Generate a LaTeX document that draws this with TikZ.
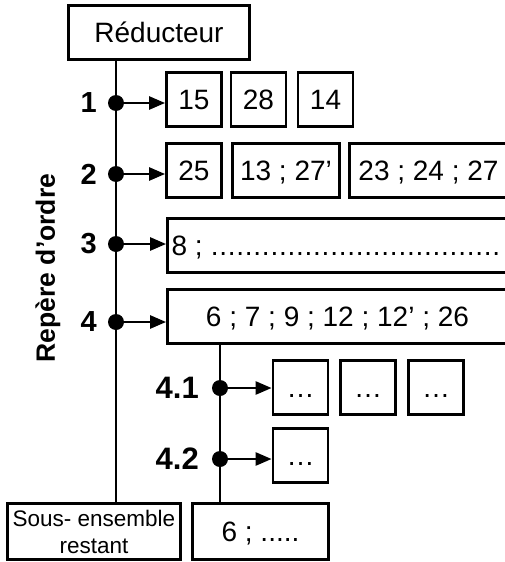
\documentclass[tikz,border=0pt]{standalone}
\usepackage{fontspec}
\setmainfont{Liberation Sans}
\usetikzlibrary{arrows.meta}
\newcommand\myfa{\fontsize{28pt}{33pt}\selectfont}
\newcommand\myfb{\fontsize{29pt}{34pt}\selectfont\bfseries}
\newcommand\myfc{\fontsize{31pt}{36pt}\selectfont\bfseries}
\newcommand\myfd{\fontsize{26.5pt}{30pt}\selectfont\bfseries}
\newcommand\myfe{\fontsize{22.5pt}{27pt}\selectfont}
\newcommand\mydots{\hbox to 290pt{\xleaders\hbox to 8.5pt{\hss.\hss}\hfill}}
\begin{document}
\begin{tikzpicture}[x=1pt,y=-1pt,
  frame/.style={draw, line width=2.8pt, inner sep=0pt},
  box/.style={frame, minimum height=54pt, minimum width=55pt, text height=20pt, text depth=0pt, font=\myfa},
  dot/.style={circle, fill, inner sep=0pt, minimum size=16pt},
  ln/.style={line width=2.8pt},
  arr/.style={line width=2.6pt, -{Triangle[length=16pt,width=13pt]}},
  lab/.style={inner sep=0pt, anchor=east, font=\myfb},
  labb/.style={inner sep=0pt, anchor=east, font=\myfc}]
\useasboundingbox (0,0) rectangle (505,562);
\clip (0,0) rectangle (505,562);

% boxes
\node[box, minimum width=181pt] (red) at (159,32.5) {Réducteur};
\node[box] (b15) at (194,99.5) {15};
\node[box] (b28) at (258.5,99.5) {28};
\node[box] (b14) at (325.5,99.5) {14};
\node[box] (b25) at (194,170.5) {25};
\node[box, minimum width=107pt] (b1327) at (286,170.5) {13 ; 27’};
\node[box, minimum width=158pt] (b2324) at (428.5,170.5) {23 ; 24 ; 27};
\node[box, minimum width=340pt] (b8) at (337.5,245.5) {\makebox[332pt][l]{8 ; \mydots}};
\node[box, minimum width=340pt] (b4) at (337.5,316.5) {6 ; 7 ; 9 ; 12 ; 12’ ; 26};
\node[box] (e1) at (300.5,387.5) {…};
\node[box] (e2) at (368,387.5) {…};
\node[box] (e3) at (436,387.5) {…};
\node[box] (e4) at (300.5,455.5) {…};
\node[frame, minimum width=173pt, minimum height=56pt, align=center, font=\myfe] (sous) at (94,531.5) {Sous- ensemble\\restant};
\node[box, minimum width=136pt, minimum height=56pt] (rest) at (260.5,531.5) {6 ; .....};

% dots
\node[dot] (d1) at (116,103) {};
\node[dot] (d2) at (116,174) {};
\node[dot] (d3) at (116,244) {};
\node[dot] (d4) at (116,322) {};
\node[dot] (d41) at (220,388) {};
\node[dot] (d42) at (220,459) {};

% vertical lines
\draw[ln] (red.south -| d1) -- (sous.north -| d1);
\draw[ln] (b4.south -| d41) -- (rest.north -| d41);

% arrows
\draw[arr] (d1) -- (b15.west |- d1);
\draw[arr] (d2) -- (b25.west |- d2);
\draw[arr] (d3) -- (b8.west |- d3);
\draw[arr] (d4) -- (b4.west |- d4);
\draw[arr] (d41) -- (e1.west |- d41);
\draw[arr] (d42) -- (e4.west |- d42);

% labels
\node[lab] (l1) at ([xshift=-19pt]d1.center) {1};
\node[lab] (l2) at ([xshift=-19pt]d2.center) {2};
\node[lab] (l3) at ([xshift=-19pt]d3.center) {3};
\node[lab] (l4) at ([xshift=-19pt]d4.center) {4};
\node[labb] (l41) at ([xshift=-21pt]d41.center) {4.1};
\node[labb] (l42) at ([xshift=-21pt]d42.center) {4.2};
\node[font=\myfd, rotate=90, inner sep=0pt] (rep) at (48,268) {Repère d’ordre};
\end{tikzpicture}
\end{document}
